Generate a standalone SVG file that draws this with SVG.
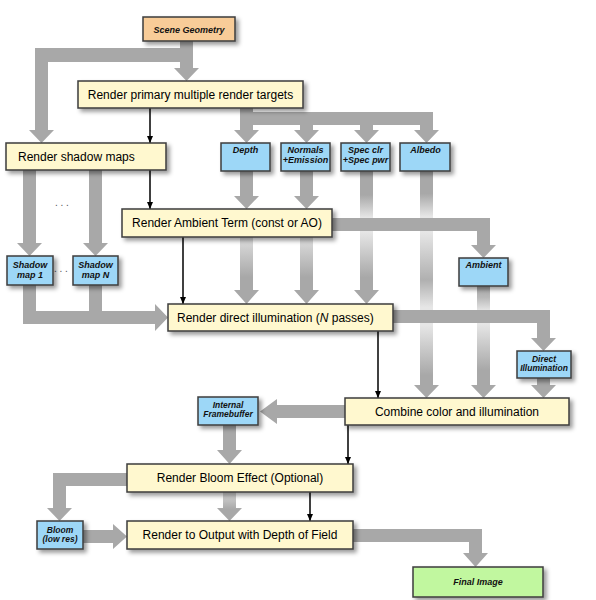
<svg xmlns="http://www.w3.org/2000/svg" width="596" height="600" viewBox="0 0 596 600">
<style>
  .box { stroke: #3c3c3c; stroke-width: 1.5; filter: url(#sh); }
  .y { fill: #fff8cf; }
  .b { fill: #9dd7f7; }
  .p { fill: #f8cc98; }
  .g { fill: #c1f79f; }
  .big { font-family: "Liberation Sans", Arial, sans-serif; font-size: 12px; fill: #000; }
  .sm { font-family: "Liberation Sans", Arial, sans-serif; font-size: 9px; font-style: italic; font-weight: bold; fill: #111; text-anchor: middle; }
  .xs { font-size: 8.5px; }
  .mid { text-anchor: middle; }
  .ga { fill: #a8a8a8; }
  .bl { stroke: #000; stroke-width: 1.5; fill: none; marker-end: url(#ah); }
  .dots { font-family: "Liberation Sans", Arial, sans-serif; font-size: 10px; fill: #555; }
</style>
<defs>
  <filter id="sh" x="-10%" y="-20%" width="130%" height="160%">
    <feDropShadow dx="3" dy="3" stdDeviation="2" flood-color="#000" flood-opacity="0.4"/>
  </filter>
  <marker id="ah" markerUnits="userSpaceOnUse" markerWidth="8" markerHeight="8" viewBox="0 0 8 8" refX="7" refY="4" orient="auto">
    <path d="M0,1 L7,4 L0,7 z" fill="#000"/>
  </marker>
  <linearGradient id="gAT" gradientUnits="userSpaceOnUse" x1="0" y1="237" x2="0" y2="304">
    <stop offset="0" stop-color="#dedede"/>
    <stop offset="0.6" stop-color="#a8a8a8"/>
    <stop offset="1" stop-color="#a8a8a8"/>
  </linearGradient>
  <linearGradient id="gSpec" gradientUnits="userSpaceOnUse" x1="0" y1="171" x2="0" y2="304">
    <stop offset="0" stop-color="#a8a8a8"/>
    <stop offset="0.18" stop-color="#a8a8a8"/>
    <stop offset="0.35" stop-color="#e6e6e6"/>
    <stop offset="0.46" stop-color="#e6e6e6"/>
    <stop offset="0.8" stop-color="#a8a8a8"/>
    <stop offset="1" stop-color="#a8a8a8"/>
  </linearGradient>
  <linearGradient id="gAlb" gradientUnits="userSpaceOnUse" x1="0" y1="171" x2="0" y2="398">
    <stop offset="0" stop-color="#a8a8a8"/>
    <stop offset="0.1" stop-color="#a8a8a8"/>
    <stop offset="0.2" stop-color="#e6e6e6"/>
    <stop offset="0.27" stop-color="#e6e6e6"/>
    <stop offset="0.48" stop-color="#b0b0b0"/>
    <stop offset="0.6" stop-color="#e6e6e6"/>
    <stop offset="0.68" stop-color="#e6e6e6"/>
    <stop offset="0.9" stop-color="#a8a8a8"/>
    <stop offset="1" stop-color="#a8a8a8"/>
  </linearGradient>
  <linearGradient id="gAmb" gradientUnits="userSpaceOnUse" x1="0" y1="286" x2="0" y2="398">
    <stop offset="0" stop-color="#a8a8a8"/>
    <stop offset="0.1" stop-color="#b8b8b8"/>
    <stop offset="0.22" stop-color="#e6e6e6"/>
    <stop offset="0.34" stop-color="#e6e6e6"/>
    <stop offset="0.75" stop-color="#a8a8a8"/>
    <stop offset="1" stop-color="#a8a8a8"/>
  </linearGradient>
  <linearGradient id="gBO" gradientUnits="userSpaceOnUse" x1="0" y1="492" x2="0" y2="521">
    <stop offset="0" stop-color="#d8d8d8"/>
    <stop offset="0.6" stop-color="#a8a8a8"/>
    <stop offset="1" stop-color="#a8a8a8"/>
  </linearGradient>
</defs>
<rect width="596" height="600" fill="#fff"/>

<g id="connectors">
  <!-- gradient shafts (under bars) -->
  <polygon points="360,171 373,171 373,290 379,290 366.5,304 354,290 360,290" fill="url(#gSpec)"/>
  <polygon points="420,171 433,171 433,385 439,385 426.5,398 414,385 420,385" fill="url(#gAlb)"/>
  <polygon points="477,286 490,286 490,385 496,385 483.5,398 471,385 477,385" fill="url(#gAmb)"/>
  <polygon points="240,237 253,237 253,290 259,290 246.5,304 234,290 240,290" fill="url(#gAT)"/>
  <polygon points="300,237 313,237 313,290 319,290 306.5,304 294,290 300,290" fill="url(#gAT)"/>
  <polygon points="223,492 236,492 236,508 242,508 229.5,521 217,508 223,508" fill="url(#gBO)"/>

  <!-- scene geometry -->
  <polygon class="ga" points="180,41 193,41 193,68 199,68 186.5,81 174,68 180,68"/>
  <polygon class="ga" points="180,48 180,62 48,62 48,130 54,130 41.5,143 29,130 35,130 35,48"/>
  <!-- MRT outputs -->
  <rect class="ga" x="240" y="112" width="193" height="13"/>
  <polygon class="ga" points="240,108 253,108 253,130 259,130 246.5,143 234,130 240,130"/>
  <polygon class="ga" points="300,125 313,125 313,130 319,130 306.5,143 294,130 300,130"/>
  <polygon class="ga" points="360,125 373,125 373,130 379,130 366.5,143 354,130 360,130"/>
  <polygon class="ga" points="420,125 433,125 433,130 439,130 426.5,143 414,130 420,130"/>
  <!-- depth/normals to ambient term -->
  <polygon class="ga" points="240,171 253,171 253,196 259,196 246.5,209 234,196 240,196"/>
  <polygon class="ga" points="300,171 313,171 313,196 319,196 306.5,209 294,196 300,196"/>
  <!-- shadow maps -->
  <polygon class="ga" points="23,170 36,170 36,243 42,243 29.5,256 17,243 23,243"/>
  <polygon class="ga" points="89,170 102,170 102,243 108,243 95.5,256 83,243 89,243"/>
  <polygon class="ga" points="23,285 36,285 36,311 89,311 89,285 102,285 102,311 155,311 155,304 168,317.5 155,331 155,324 23,324"/>
  <!-- ambient term to ambient buffer -->
  <polygon class="ga" points="332,218 490,218 490,245 496,245 483.5,258 471,245 477,245 477,231 332,231"/>
  <!-- direct illumination to buffer -->
  <polygon class="ga" points="393,310 550,310 550,338 556,338 543.5,351 531,338 537,338 537,323 393,323"/>
  <polygon class="ga" points="537,378 550,378 550,385 556,385 543.5,398 531,385 537,385"/>
  <!-- combine to framebuffer -->
  <polygon class="ga" points="345,405 277,405 277,399 260,411.5 277,424 277,418 345,418"/>
  <polygon class="ga" points="223,425 236,425 236,450 242,450 229.5,464 217,450 223,450"/>
  <!-- bloom -->
  <polygon class="ga" points="127,473 127,486 66,486 66,508 72,508 59.5,521 47,508 53,508 53,473"/>
  <polygon class="ga" points="83,530 113,530 113,524 127,536.5 113,549 113,543 83,543"/>
  <!-- output to final -->
  <polygon class="ga" points="353,529 482,529 482,553 488,553 475.5,567 463,553 469,553 469,542 353,542"/>

  <!-- black dependency arrows -->
  <line class="bl" x1="150" y1="108" x2="150" y2="143"/>
  <line class="bl" x1="150" y1="170" x2="150" y2="209"/>
  <line class="bl" x1="183" y1="237" x2="183" y2="304"/>
  <line class="bl" x1="378" y1="331" x2="378" y2="398"/>
  <line class="bl" x1="348" y1="425" x2="348" y2="464"/>
  <line class="bl" x1="310" y1="492" x2="310" y2="521"/>

  <text class="dots" x="55" y="206">. . .</text>
  <text class="dots" x="54" y="272">. . .</text>
</g>

<g id="sceneGeometry"><rect class="box p" x="143" y="17" width="92" height="24"/><text class="sm" x="189" y="32.5">Scene Geometry</text></g>
<g id="renderMRT"><rect class="box y" x="78" y="81" width="225" height="27"/><text class="big mid" x="190.5" y="98.5">Render primary multiple render targets</text></g>
<g id="renderShadowMaps"><rect class="box y" x="6" y="143" width="160" height="27"/><text class="big" x="18" y="160.5">Render shadow maps</text></g>
<g id="depth"><rect class="box b" x="221" y="143" width="49" height="28"/><text class="sm" x="245.5" y="153">Depth</text></g>
<g id="normals"><rect class="box b" x="281" y="143" width="49" height="28"/><text class="sm" x="305.5" y="153">Normals</text><text class="sm" x="305.5" y="162.5">+Emission</text></g>
<g id="spec"><rect class="box b" x="341" y="143" width="49" height="28"/><text class="sm" x="365.5" y="153">Spec clr</text><text class="sm" x="365.5" y="162.5">+Spec pwr</text></g>
<g id="albedo"><rect class="box b" x="400" y="143" width="50" height="28"/><text class="sm" x="425.5" y="153">Albedo</text></g>
<g id="renderAmbientTerm"><rect class="box y" x="122" y="209" width="210" height="28"/><text class="big mid" x="227" y="227">Render Ambient Term (const or AO)</text></g>
<g id="shadowMap1"><rect class="box b" x="7" y="256" width="46" height="29"/><text class="sm" x="30" y="268">Shadow</text><text class="sm" x="30" y="277.5">map 1</text></g>
<g id="shadowMapN"><rect class="box b" x="73" y="256" width="45" height="29"/><text class="sm" x="95.5" y="268">Shadow</text><text class="sm" x="95.5" y="277.5">map N</text></g>
<g id="ambient"><rect class="box b" x="459" y="258" width="49" height="28"/><text class="sm" x="483.5" y="268">Ambient</text></g>
<g id="renderDirectIllumination"><rect class="box y" x="168" y="304" width="225" height="27"/><text class="big" x="177" y="321.5">Render direct illumination (<tspan font-style="italic">N</tspan> passes)</text></g>
<g id="directIllumination"><rect class="box b" x="517" y="351" width="54" height="27"/><text class="sm xs" x="544" y="362">Direct</text><text class="sm xs" x="544" y="371">Illumination</text></g>
<g id="combine"><rect class="box y" x="345" y="398" width="224" height="27"/><text class="big mid" x="457" y="415.5">Combine color and illumination</text></g>
<g id="internalFramebuffer"><rect class="box b" x="198" y="397" width="60" height="28"/><text class="sm xs" x="228" y="408">Internal</text><text class="sm xs" x="228" y="417">Framebuffer</text></g>
<g id="renderBloom"><rect class="box y" x="127" y="464" width="226" height="28"/><text class="big mid" x="240" y="482">Render Bloom Effect (Optional)</text></g>
<g id="bloomLowRes"><rect class="box b" x="37" y="521" width="46" height="28"/><text class="sm xs" x="60" y="533">Bloom</text><text class="sm xs" x="60" y="542">(low res)</text></g>
<g id="renderOutput"><rect class="box y" x="127" y="521" width="226" height="28"/><text class="big mid" x="240" y="539">Render to Output with Depth of Field</text></g>
<g id="finalImage"><rect class="box g" x="413" y="567" width="130" height="30"/><text class="sm" x="478" y="585">Final Image</text></g>
</svg>
